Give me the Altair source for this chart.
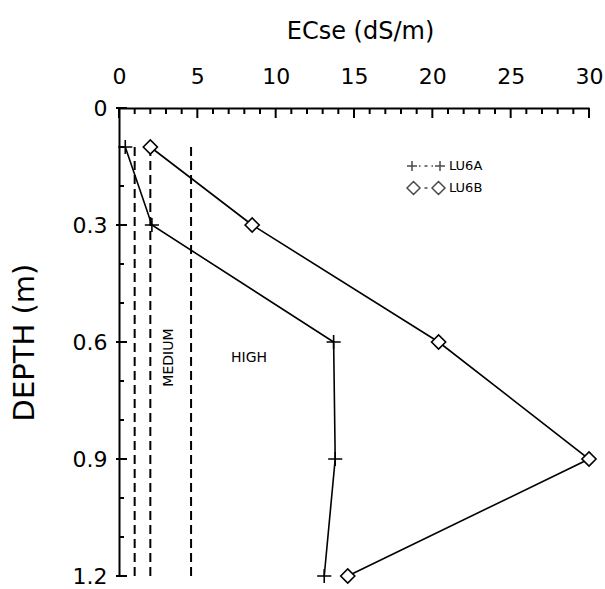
import altair as alt
import pandas as pd

# Salinity profiles: ECse (dS/m) of the saturation extract at each sampled depth (m)
depth = [0.1, 0.3, 0.6, 0.9, 1.2]
lu6a_ecse = [0.4, 2.1, 13.7, 13.8, 13.1]
lu6b_ecse = [2.0, 8.5, 20.4, 30.0, 14.6]
series_names = ["LU6A", "LU6B"]

# Salinity class boundaries (dS/m) and the depth span of their dashed guides
class_bounds = [1.0, 2.0, 4.6]
guide_top = [0.1, 0.1, 0.1]
guide_bottom = [1.2, 1.2, 1.2]

# Class names written inside the chart
class_names = ["MEDIUM", "HIGH"]
class_name_x = [3.2, 8.3]
class_name_depth = [0.64, 0.64]

# Axis ticks: labelled majors and unlabelled minors
x_major_ticks = [0, 5, 10, 15, 20, 25, 30]
x_minor_ticks = [1, 2, 3, 4, 6, 7, 8, 9, 11, 12, 13, 14, 16, 17, 18, 19,
                 21, 22, 23, 24, 26, 27, 28, 29]
y_major_ticks = [0.0, 0.3, 0.6, 0.9, 1.2]
y_minor_ticks = [0.1, 0.2, 0.4, 0.5, 0.7, 0.8, 1.0, 1.1]

FONT = "DejaVu Sans"
WIDTH, HEIGHT = 470, 468
X_MAX, Y_MAX = 30.0, 1.2

profiles = pd.DataFrame({
    "series": [series_names[0]] * len(depth) + [series_names[1]] * len(depth),
    "depth": depth + depth,
    "ecse": lu6a_ecse + lu6b_ecse,
})
guides = pd.DataFrame({"ecse": class_bounds, "top": guide_top, "bottom": guide_bottom})
names = pd.DataFrame({"name": class_names, "ecse": class_name_x, "depth": class_name_depth})

# Inward tick segments: pixel lengths converted to axis units
def px_depth(px):
    return px / HEIGHT * Y_MAX

def px_ecse(px):
    return px / WIDTH * X_MAX

x_tick_segments = pd.DataFrame({
    "ecse": [float(v) for v in x_major_ticks + x_minor_ticks],
    "t0": [0.0] * (len(x_major_ticks) + len(x_minor_ticks)),
    "t1": [px_depth(10)] * len(x_major_ticks) + [px_depth(6)] * len(x_minor_ticks),
})
y_tick_segments = pd.DataFrame({
    "depth": y_major_ticks + y_minor_ticks,
    "e0": [px_ecse(-3)] * len(y_major_ticks) + [0.0] * len(y_minor_ticks),
    "e1": [px_ecse(8)] * len(y_major_ticks) + [px_ecse(5)] * len(y_minor_ticks),
})

x_scale = alt.Scale(domain=[0, X_MAX], nice=False, zero=False)
y_scale = alt.Scale(domain=[0, Y_MAX], nice=False, zero=False, reverse=True)

x_axis = alt.Axis(
    orient="top", values=x_major_ticks, title="ECse (dS/m)", format="d",
    ticks=False, grid=False,
    domainColor="black", domainWidth=2,
    labelFont=FONT, labelFontSize=22, labelColor="black", labelPadding=20,
    labelFlush=False, labelOverlap=False,
    titleFont=FONT, titleFontSize=24, titleFontWeight="normal", titleColor="black",
    titlePadding=22, titleX=241,
)
y_axis = alt.Axis(
    orient="left", values=y_major_ticks, title="DEPTH (m)", format="~g",
    ticks=False, grid=False,
    domainColor="black", domainWidth=2,
    labelFont=FONT, labelFontSize=22, labelColor="black", labelPadding=12,
    labelFlush=False, labelOverlap=False,
    titleFont=FONT, titleFontSize=29, titleFontWeight="normal", titleColor="black",
    titlePadding=33,
)

x_enc = alt.X("ecse:Q", scale=x_scale, axis=x_axis)
y_enc = alt.Y("depth:Q", scale=y_scale, axis=y_axis)

# Single markers on the profiles: thin plus and open diamond
plus_path = "M-1,0L1,0M0,-1L0,1"
marker_shapes = [plus_path, "diamond"]

# Legend glyphs: two markers joined by a dotted stroke
legend_shapes = [
    "M-1.9,0L-0.9,0M-1.4,-0.5L-1.4,0.5M0.9,0L1.9,0M1.4,-0.5L1.4,0.5"
    "M-0.7,0L-0.55,0M-0.15,0L0.15,0M0.55,0L0.7,0",
    "M-1.9,0L-1.25,-0.65L-0.6,0L-1.25,0.65ZM0.6,0L1.25,-0.65L1.9,0L1.25,0.65Z"
    "M-0.15,0L0.15,0",
]

class_guides = alt.Chart(guides).mark_rule(
    color="black", strokeWidth=2, strokeDash=[9, 5]
).encode(x=x_enc, y=alt.Y("top:Q", scale=y_scale, axis=y_axis), y2="bottom:Q")

x_ticks = alt.Chart(x_tick_segments).mark_rule(color="black", strokeWidth=2).encode(
    x=x_enc, y=alt.Y("t0:Q", scale=y_scale, axis=y_axis), y2="t1:Q"
)
y_ticks = alt.Chart(y_tick_segments).mark_rule(color="black", strokeWidth=2).encode(
    y=y_enc, x=alt.X("e0:Q", scale=x_scale, axis=x_axis), x2="e1:Q"
)

lines = alt.Chart(profiles).mark_line(color="black", strokeWidth=1.6).encode(
    x=x_enc, y=y_enc, detail="series:N", order="depth:Q"
)

points = alt.Chart(profiles).mark_point(
    fill="white", stroke="black", strokeWidth=1.6, opacity=1
).encode(
    x=x_enc, y=y_enc,
    shape=alt.Shape("series:N", scale=alt.Scale(domain=series_names, range=marker_shapes), legend=None),
    size=alt.SizeValue(200),
)

medium_label = alt.Chart(names).transform_filter("datum.name === 'MEDIUM'").mark_text(
    font=FONT, fontSize=14, angle=270, color="black"
).encode(x=x_enc, y=y_enc, text="name:N")

high_label = alt.Chart(names).transform_filter("datum.name === 'HIGH'").mark_text(
    font=FONT, fontSize=14, color="black"
).encode(x=x_enc, y=y_enc, text="name:N")

legend_layer = alt.Chart(profiles).transform_filter("false").mark_point(
    color="black", strokeWidth=1.5
).encode(
    shape=alt.Shape(
        "series:N",
        scale=alt.Scale(domain=series_names, range=legend_shapes),
        legend=alt.Legend(
            title=None, orient="none", legendX=296, legendY=47,
            symbolSize=400, symbolStrokeWidth=1.5, symbolStrokeColor="black",
            symbolFillColor="white",
            labelFont=FONT, labelFontSize=13, labelColor="black", labelOffset=12,
            rowPadding=3,
        ),
    )
)

chart = alt.layer(
    class_guides, x_ticks, y_ticks, lines, points,
    medium_label, high_label, legend_layer,
).resolve_scale(shape="independent").properties(
    width=WIDTH, height=HEIGHT,
    autosize=alt.AutoSizeParams(type="none"),
    padding={"left": 119, "top": 108, "right": 16, "bottom": 13},
    background="white",
).configure_view(stroke=None)

chart.save("out.html", embed_options={"renderer": "svg", "actions": False})
